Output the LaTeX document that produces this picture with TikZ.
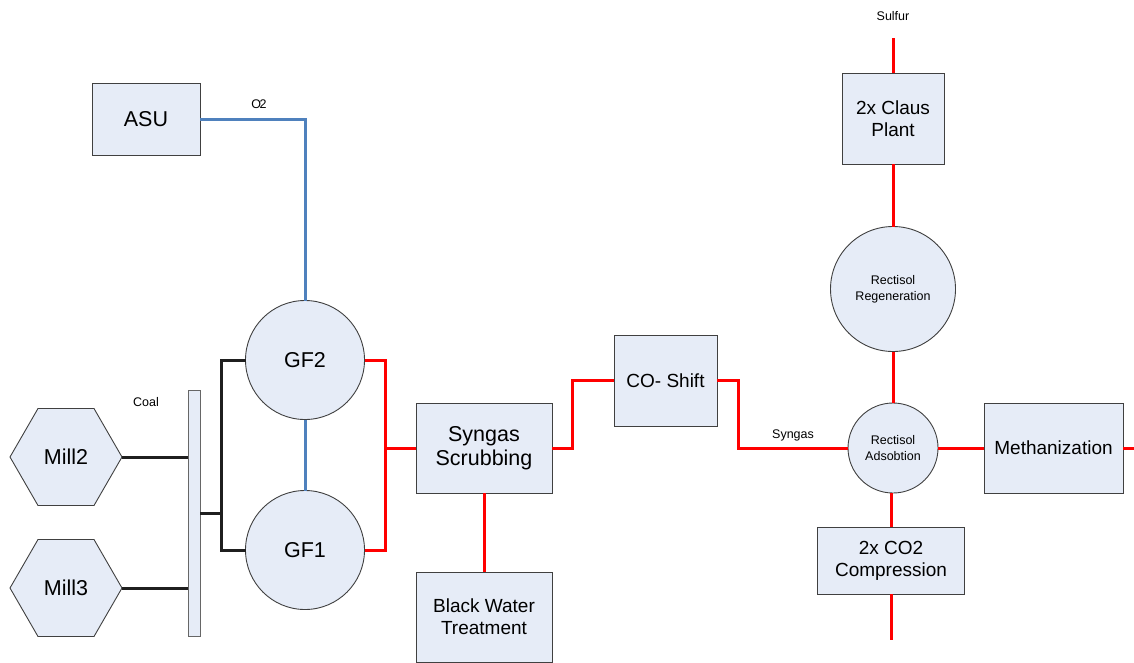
\documentclass[tikz,border=0pt]{standalone}
\usepackage{fontspec}
\setmainfont{Liberation Sans}
\usetikzlibrary{shapes.geometric}
\definecolor{boxfill}{RGB}{230,236,247}
\definecolor{boxline}{RGB}{64,64,64}
\definecolor{o2blue}{RGB}{79,129,189}
\begin{document}
\begin{tikzpicture}[x=1pt,y=-1pt,
 unit/.style={draw=boxline, fill=boxfill, line width=0.9pt, rectangle, inner sep=0pt, outer sep=0pt, align=center, font=\fontsize{19}{22}\selectfont},
 bigunit/.style={unit, font=\fontsize{21.5}{24}\selectfont},
 vessel/.style={draw=boxline, fill=boxfill, line width=0.9pt, circle, inner sep=0pt, outer sep=0pt, align=center, font=\fontsize{21.5}{24}\selectfont},
 smallvessel/.style={vessel, font=\fontsize{12.5}{16}\selectfont},
 mill/.style={draw=boxline, fill=boxfill, line width=0.9pt, regular polygon, regular polygon sides=6, minimum size=112pt, inner sep=0pt, outer sep=0pt, font=\fontsize{21.5}{24}\selectfont},
 bar/.style={draw=boxline!80, fill=boxfill, line width=0.9pt, rectangle, inner sep=0pt, outer sep=0pt},
 redline/.style={draw=red, line width=3pt},
 blueline/.style={draw=o2blue, line width=3pt},
 coalline/.style={draw=black!88, line width=3pt},
 lbl/.style={font=\fontsize{12.5}{15}\selectfont, inner sep=0pt}]
\useasboundingbox (0,0) rectangle (1134,662);
\clip (0,0) rectangle (1134,662);

% nodes
\node[bigunit, minimum width=108pt, minimum height=72pt] (asu) at (146,119) {ASU};
\node[vessel, minimum size=119pt] (gf2) at (305,360) {GF2};
\node[vessel, minimum size=119pt] (gf1) at (305,550) {GF1};
\node[mill] (mill2) at (66,457) {Mill2};
\node[mill] (mill3) at (66,588) {Mill3};
\node[bar, minimum width=12pt, minimum height=246pt] (coalbar) at (194,513) {};
\node[bigunit, minimum width=136pt, minimum height=90pt] (ss) at (484,448) {Syngas\\Scrubbing};
\node[unit, minimum width=136pt, minimum height=90pt] (bwt) at (484,617) {Black Water\\Treatment};
\node[unit, minimum width=103pt, minimum height=91pt] (co) at (665.5,380.5) {CO- Shift};
\node[smallvessel, minimum size=90pt] (ra) at (893,448) {Rectisol\\Adsobtion};
\node[smallvessel, minimum size=125pt] (rr) at (893,289) {Rectisol\\Regeneration};
\node[unit, minimum width=102pt, minimum height=91pt] (claus) at (893,118.5) {2x Claus\\Plant};
\node[unit, minimum width=139pt, minimum height=90pt] (meth) at (1053.5,448) {Methanization};
\node[unit, minimum width=147pt, minimum height=67pt] (co2) at (891,560.5) {2x CO2\\Compression};

% labels
\node[lbl] (o2lbl) at (259,104) {O\kern-1.5pt 2};
\node[lbl] (coallbl) at (146,402) {Coal};
\node[lbl] (syngaslbl) at (793,435) {Syngas};
\node[lbl] (sulfurlbl) at (893,16) {Sulfur};

% coordinates
\coordinate (cbus) at (221,513);
\coordinate (rbus) at (385,448);
\coordinate (j1) at (572,448);
\coordinate (j2) at (738,448);
\coordinate (sulfurend) at (893,38);
\coordinate (co2end) at (891,640);
\coordinate (methend) at (1134,448);

% blue oxygen lines
\draw[blueline] (asu.east) -| (gf2.north);
\draw[blueline] (gf2.south) -- (gf1.north);

% coal lines
\draw[coalline] (mill2.east) -- (coalbar.west |- mill2.east);
\draw[coalline] (mill3.east) -- (coalbar.west |- mill3.east);
\draw[coalline] (coalbar.east |- cbus) -- (cbus);
\draw[coalline] (gf2.west) -| (cbus) |- (gf1.west);

% red syngas lines
\draw[redline] (gf2.east) -| (rbus) |- (gf1.east);
\draw[redline] (rbus) -- (ss.west);
\draw[redline] (ss.south) -- (bwt.north);
\draw[redline] (ss.east) -- (j1) |- (co.west);
\draw[redline] (co.east) -| (j2) -- (ra.west);
\draw[redline] (ra.east) -- (meth.west);
\draw[redline] (meth.east) -- (methend);
\draw[redline] (ra.north) -- (rr.south);
\draw[redline] (rr.north) -- (claus.south);
\draw[redline] (claus.north) -- (sulfurend);
\draw[redline] (co2.north) -- (co2.north |- ra.south);
\draw[redline] (co2.south) -- (co2end);
\end{tikzpicture}
\end{document}
